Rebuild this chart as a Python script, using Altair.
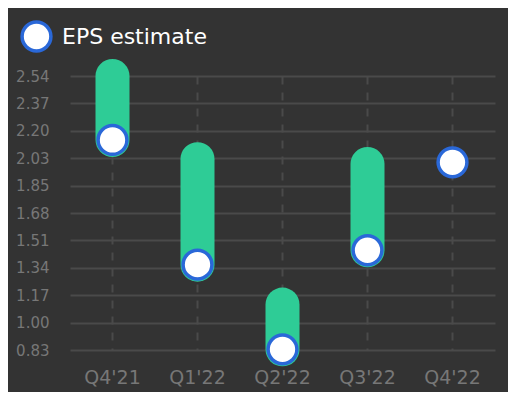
import numpy as np
import pandas as pd
import altair as alt

# quarterly EPS: consensus estimate (circle) and the high estimate (top of bar)
quarters = ["Q4'21", "Q1'22", "Q2'22", "Q3'22", "Q4'22"]
eps_estimate = [2.14, 1.36, 0.83, 1.45, 2.00]
eps_high = [2.54, 2.02, 1.11, 1.99, None]
series_name = ["EPS estimate"] * len(quarters)

y_domain = [0.826, 2.54]
y_ticks = [float(v) for v in np.linspace(y_domain[0], y_domain[1], 11)]

BG = "#333333"
GREEN = "#2ecc96"
BLUE = "#2a68d8"
GRID = "#4a4a4a"
LABEL = "#777777"

df = pd.DataFrame(
    {"quarter": quarters, "estimate": eps_estimate, "high": eps_high, "series": series_name}
)

x_axis = alt.Axis(
    title=None,
    labelAngle=0,
    labelFontSize=19,
    labelColor=LABEL,
    labelPadding=18,
    labelOverlap=False,
    ticks=False,
    domain=False,
    grid=True,
    gridColor=GRID,
    gridWidth=2,
    gridDash=[8, 8],
    bandPosition=0.5,
)
y_axis = alt.Axis(
    title=None,
    values=y_ticks,
    format=".2f",
    labelFontSize=15,
    labelColor=LABEL,
    labelPadding=21,
    labelOverlap=False,
    ticks=False,
    domain=False,
    grid=True,
    gridColor=GRID,
    gridWidth=2,
)
x_scale = alt.Scale(paddingInner=0, paddingOuter=0)
y_scale = alt.Scale(domain=y_domain, nice=False, zero=False)

bars = (
    alt.Chart(df)
    .transform_filter("datum.high != null")
    .mark_rule(color=GREEN, strokeWidth=34, strokeCap="round")
    .encode(
        x=alt.X("quarter:N", sort=quarters, scale=x_scale, axis=x_axis),
        y=alt.Y("estimate:Q", scale=y_scale, axis=y_axis),
        y2="high:Q",
    )
)

points = (
    alt.Chart(df)
    .mark_circle(size=830, stroke=BLUE, strokeWidth=3.5, opacity=1)
    .encode(
        x=alt.X("quarter:N", sort=quarters, scale=x_scale, axis=x_axis),
        y=alt.Y("estimate:Q", scale=y_scale, axis=y_axis),
        color=alt.Color(
            "series:N",
            scale=alt.Scale(range=["#ffffff"]),
            legend=alt.Legend(
                title=None,
                orient="none",
                legendX=-50,
                legendY=-56,
                padding=0,
                symbolType="circle",
                symbolSize=830,
                symbolStrokeColor=BLUE,
                symbolStrokeWidth=3.5,
                symbolOpacity=1,
                labelFontSize=22,
                labelColor="#ffffff",
                labelOffset=9,
            ),
        ),
    )
)

chart = (
    alt.layer(bars, points)
    .properties(
        width=425,
        height=274,
        autosize="none",
        padding={"left": 62, "top": 68, "right": 13, "bottom": 42},
        background=BG,
    )
    .configure(font="DejaVu Sans")
    .configure_view(strokeWidth=0)
)

chart.save("out.html", embed_options={"renderer": "svg", "actions": False})
